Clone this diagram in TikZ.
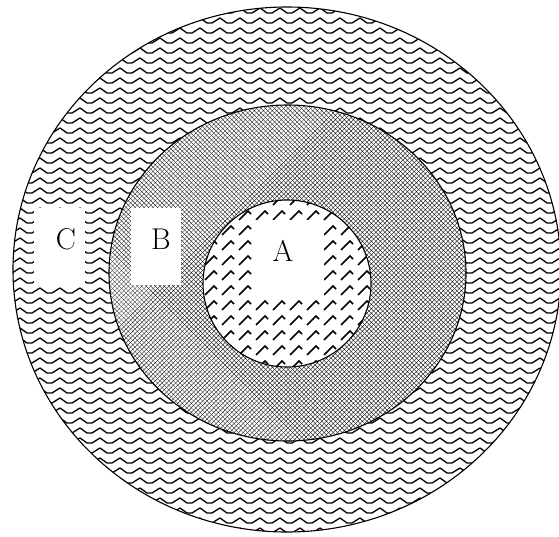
\documentclass[tikz,border=0pt]{standalone}
\usetikzlibrary{patterns}
\pgfdeclarepatternformonly{ringwave}{\pgfpoint{-1pt}{-1pt}}{\pgfpoint{21pt}{11pt}}{\pgfpoint{20pt}{10pt}}{%
  \pgfsetlinewidth{1.3pt}%
  \pgfpathmoveto{\pgfpoint{0pt}{8pt}}%
  \pgfpathlineto{\pgfpoint{7pt}{3pt}}%
  \pgfpathlineto{\pgfpoint{12pt}{3pt}}%
  \pgfpathlineto{\pgfpoint{20pt}{8pt}}%
  \pgfusepath{stroke}}
\pgfdeclarepatternformonly{finemesh}{\pgfpoint{-0.5pt}{-0.5pt}}{\pgfpoint{5pt}{5pt}}{\pgfpoint{4.5pt}{4.5pt}}{%
  \pgfsetlinewidth{0.35pt}%
  \pgfpathmoveto{\pgfpoint{0pt}{0pt}}\pgfpathlineto{\pgfpoint{4.5pt}{4.5pt}}%
  \pgfpathmoveto{\pgfpoint{0pt}{4.5pt}}\pgfpathlineto{\pgfpoint{4.5pt}{0pt}}%
  \pgfusepath{stroke}}
\pgfdeclarepatternformonly{ticks}{\pgfpoint{-1pt}{-1pt}}{\pgfpoint{18pt}{16pt}}{\pgfpoint{17pt}{15pt}}{%
  \pgfsetlinewidth{1.6pt}%
  \pgfpathmoveto{\pgfpoint{1pt}{1pt}}\pgfpathlineto{\pgfpoint{10pt}{10pt}}%
  \pgfpathlineto{\pgfpoint{13pt}{7pt}}%
  \pgfusepath{stroke}}
\begin{document}
\begin{tikzpicture}[x=1pt,y=-1pt,
  ring/.style={line width=1.1pt, draw=black},
  whitebox/.style={fill=white, draw=none, inner sep=0pt},
  lab/.style={font=\fontsize{30}{34}\selectfont, inner sep=0pt}]
\useasboundingbox (0,0) rectangle (559,536);
\fill[white] (0,0) rectangle (559,536);
% rings
\draw[ring, preaction={fill=white}, pattern=ringwave] (287,269.5) ellipse [x radius=274, y radius=262.5];
\draw[ring, preaction={fill=white}, pattern=finemesh] (287.5,273) ellipse [x radius=178.5, y radius=168];
\draw[ring, preaction={fill=white}, pattern=ticks] (287,283.5) ellipse [x radius=84, y radius=83.5];
% label boxes
\node[whitebox, minimum width=51pt, minimum height=77pt] (boxC) at (59.5,246.5) {};
\node[whitebox, minimum width=50pt, minimum height=77pt] (boxB) at (156,246.5) {};
\node[whitebox, minimum width=72pt, minimum height=78pt] (boxA) at (288,259) {};
\node[lab] (C) at (66,239) {C};
\node[lab] (B) at (161,239) {B};
\node[lab] (A) at (283,250.5) {A};
\end{tikzpicture}
\end{document}
